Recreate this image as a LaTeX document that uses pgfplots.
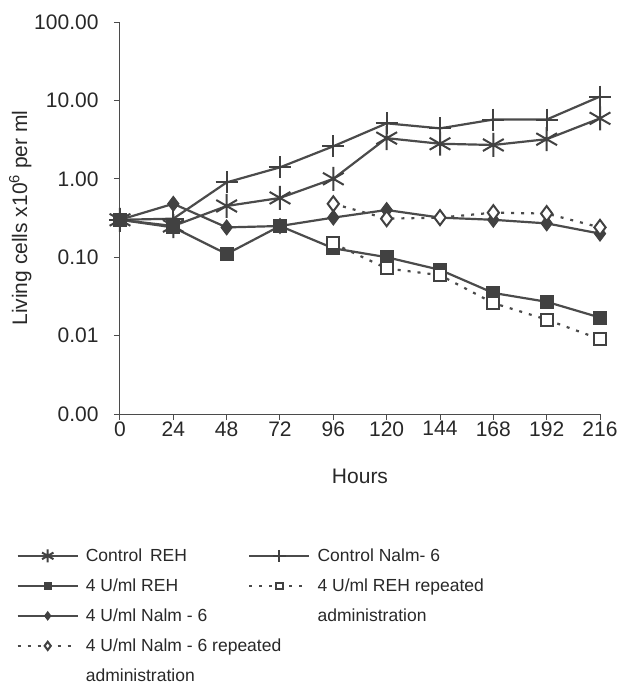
\documentclass[border=0pt]{standalone}
\usepackage{pgfplots}
\pgfplotsset{compat=1.18}
\usepackage{fontspec}
\setmainfont{Liberation Sans}
\definecolor{ln}{RGB}{75,75,75}
\definecolor{mk}{RGB}{65,65,65}
\definecolor{tx}{RGB}{40,40,40}
\begin{document}
\begin{tikzpicture}
\path[use as bounding box] (-120pt,-277pt) rectangle (512pt,414pt);
\begin{axis}[
  scale only axis, width=480pt, height=392pt,
  ymode=log, ymin=0.001, ymax=100,
  xmin=0, xmax=216,
  xtick={0,24,...,216},
  ytick={0.001,0.01,0.1,1,10,100},
  yticklabels={0.00,0.01,0.10,1.00,10.00,100.00},
  yminorticks=false,
  axis lines=left, axis line style={-, ln, line width=1pt},
  tick style={ln, line width=1pt},
  tick align=outside, major tick length=6pt,
  /pgf/number format/assume math mode=true,
  tick label style={font=\fontsize{21}{24}\selectfont, text=tx},
  xticklabel style={yshift=2pt},
  yticklabel style={xshift=-12pt},
  xlabel={Hours}, ylabel={Living cells x10\textsuperscript{6} per ml},
  label style={font=\fontsize{21}{24}\selectfont, text=tx},
  xlabel style={yshift=-26pt},
  ylabel style={yshift=-4pt},
  clip=false,
  legend style={at={(axis description cs:-0.222,-0.318)}, anchor=north west, draw=none, fill=none,
    font=\fontsize{17.5}{20}\selectfont, text=tx,
    row sep=0pt,
    nodes={inner ysep=0pt, text height=21pt, text depth=9pt, inner xsep=7pt},
    cells={anchor=west},
    /tikz/every even column/.append style={column sep=34pt}},
  legend columns=2,
  legend image code/.code={\draw[mark repeat=2,mark phase=2,#1, every mark/.append style={scale=0.55}] plot coordinates {(0pt,0pt) (30pt,0pt) (60pt,0pt)};},
]
\addplot[ln, line width=2.2pt, mark=asterisk, mark size=12pt, mark options={mk, line width=2pt}]
 coordinates {(0,0.30) (24,0.25) (48,0.45) (72,0.57) (96,1.0) (120,3.3) (144,2.8) (168,2.7) (192,3.2) (216,5.9)};
\addlegendentry{Control\, REH}
\addplot[ln, line width=2.2pt, mark=+, mark size=11pt, mark options={mk, line width=2pt}]
 coordinates {(0,0.30) (24,0.31) (48,0.9) (72,1.4) (96,2.6) (120,5.1) (144,4.4) (168,5.7) (192,5.7) (216,11.2)};
\addlegendentry{Control Nalm- 6}
\addplot[ln, line width=2.2pt, mark=square*, mark size=6.5pt, mark options={mk, fill=mk, line width=1pt}]
 coordinates {(0,0.30) (24,0.24) (48,0.11) (72,0.25) (96,0.13) (120,0.10) (144,0.069) (168,0.035) (192,0.027) (216,0.017)};
\addlegendentry{4 U/ml REH}
\addplot[ln, line width=2.2pt, dash pattern=on 3pt off 7pt, mark=square*, mark size=6pt, mark options={solid, mk, fill=white, line width=2pt}]
 coordinates {(96,0.15) (120,0.072) (144,0.059) (168,0.026) (192,0.016) (216,0.009)};
\addlegendentry{4 U/ml REH repeated}
\addplot[ln, line width=2.2pt, mark=diamond*, mark size=7.5pt, mark options={mk, fill=mk, line width=1pt}]
 coordinates {(0,0.30) (24,0.48) (48,0.24) (72,0.25) (96,0.32) (120,0.40) (144,0.32) (168,0.30) (192,0.27) (216,0.20)};
\addlegendentry{4 U/ml Nalm - 6}
\addlegendimage{empty legend}
\addlegendentry{administration}
\addplot[ln, line width=2.2pt, dash pattern=on 3pt off 7pt, mark=diamond*, mark size=7.5pt, mark options={solid, mk, fill=white, line width=2pt}]
 coordinates {(96,0.48) (120,0.31) (144,0.32) (168,0.37) (192,0.36) (216,0.24)};
\addlegendentry{\makebox[0pt][l]{4 U/ml Nalm - 6 repeated}}
\addlegendimage{empty legend}
\addlegendentry{}
\addlegendimage{empty legend}
\addlegendentry{administration}
\end{axis}
\end{tikzpicture}
\end{document}
